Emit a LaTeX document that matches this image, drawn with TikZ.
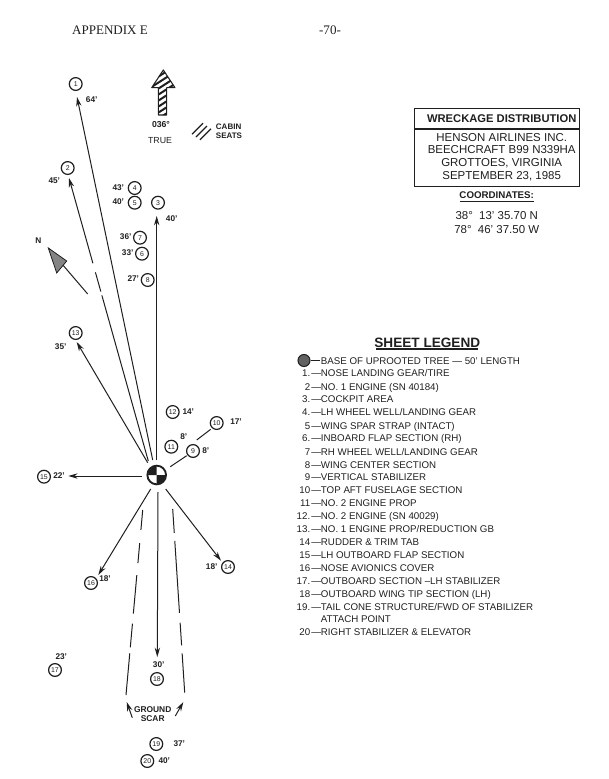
\documentclass[tikz,border=0pt]{standalone}
\usepackage{fontspec}
\setmainfont{Liberation Sans}
\newfontfamily\headfont{Liberation Serif}
\usetikzlibrary{arrows.meta}
\definecolor{ink}{gray}{0.12}
\tikzset{
  x=0.75pt,y=-0.75pt,
  num/.style={draw=ink,circle,line width=0.9pt,inner sep=0pt,minimum size=9.6pt,font=\fontsize{5.2}{5}\selectfont,text=ink},
  lab/.style={font=\fontsize{6.2}{7}\selectfont\bfseries,text=ink,inner sep=0pt},
  leg/.style={font=\fontsize{7.3}{8}\selectfont,text=ink,inner sep=0pt,anchor=west,text height=5.4pt,text depth=0pt},
  legn/.style={font=\fontsize{7.3}{8}\selectfont,text=ink,inner sep=0pt,anchor=east,text height=5.4pt,text depth=0pt},
  ttl/.style={font=\fontsize{8.6}{9}\selectfont,text=ink,inner sep=0pt},
  arr/.style={draw=ink,line width=0.75pt,-{Stealth[length=7pt,width=4pt]}},
  plain/.style={draw=ink,line width=0.75pt},
  scar/.style={draw=ink,line width=0.75pt},
}
\begin{document}
\begin{tikzpicture}
\useasboundingbox (0,0) rectangle (609,779);
% header
\node[font=\fontsize{9.8}{10}\selectfont\headfont,text=ink,inner sep=0pt] (hA) at (110,30) {APPENDIX E};
\node[font=\fontsize{9.8}{10}\selectfont\headfont,text=ink,inner sep=0pt] (hB) at (330,30) {-70-};
% tree
\node[draw=ink,circle,line width=1.4pt,minimum size=14pt,inner sep=0pt] (tree) at (156.7,475) {};
\fill[ink] (tree.center) -- ++(-6.5pt,0) arc (180:90:6.5pt) -- cycle;
\fill[ink] (tree.center) -- ++(6.5pt,0) arc (0:-90:6.5pt) -- cycle;
% numbered circles
\foreach \n/\px/\py in {1/75.7/84,2/67.7/168,3/158/202.7,4/134.7/188,5/134.7/202.7,6/142/253.7,7/140/237.7,8/147.7/280,9/193/451,10/216.7/423,11/171.3/446.7,12/172.7/412,13/75.7/333,14/228/567,15/44/476.7,16/91/583,17/55/670,18/157/679,19/156.3/744,20/147.3/761}
  \node[num] (n\n) at (\px,\py) {\n};
% distance labels
\foreach \t/\px/\py in {64'/91.7/99.3,45'/54.3/180.7,43'/118.3/188,40'/118.3/201.3,40'/171.7/219,36'/125.7/237,33'/127.7/253,27'/133.3/278.7,35'/60.7/346.7,14'/188.3/412,17'/236/421.3,8'/183.7/437,8'/205.7/451,22'/59/476,18'/105/579,18'/211.7/567,23'/61.3/657,30'/158.7/665,37'/179.3/743.7,40'/164.3/760.3}
  \node[lab] at (\px,\py) {\t};
% connector ends
\coordinate (s1) at (152.7,460); \coordinate (e1) at (77,97);
\coordinate (s2) at (148.3,461); \coordinate (e2) at (69,178);
\coordinate (s3) at (156.7,460); \coordinate (e3) at (156.7,216);
\coordinate (s13) at (147.7,462.7); \coordinate (e13) at (76.7,342);
\coordinate (s15) at (142.3,476); \coordinate (e15) at (68.3,476);
\coordinate (s16) at (150.7,489); \coordinate (e16) at (98.3,575);
\coordinate (s14) at (165.7,489); \coordinate (e14) at (221,560.7);
\coordinate (s18) at (158,492); \coordinate (e18) at (157.3,657);
\draw[arr] (s1) -- (e1);
\draw[arr,dash pattern=on 129pt off 3pt on 15pt off 7pt on 300pt] (s2) -- (e2);
\draw[arr] (s3) -- (e3);
\draw[arr] (s13) -- (e13);
\draw[arr] (s15) -- (e15);
\draw[arr] (s16) -- (e16);
\draw[arr] (s14) -- (e14);
\draw[arr] (s18) -- (e18);
% short ties
\coordinate (a9) at (170.3,466.7); \coordinate (b9) at (186.7,455.7);
\coordinate (a10) at (196.7,440); \coordinate (b10) at (210.7,429.3);
\draw[plain] (a9) -- (b9);
\draw[plain] (a10) -- (b10);
% ground scar
\coordinate (L1) at (142.7,510); \coordinate (L2) at (126,695);
\coordinate (R1) at (172.7,509); \coordinate (R2) at (184.7,692.7);
\draw[scar,dash pattern=on 15pt off 10pt on 15pt off 9pt on 29pt off 7.5pt on 18pt off 4.5pt on 40pt] (L1) -- (L2);
\draw[scar,dash pattern=on 18pt off 6pt on 54pt off 7.5pt on 17pt off 6pt on 40pt] (R1) -- (R2);
\coordinate (La) at (132.3,717.7); \coordinate (Lb) at (126.7,702);
\coordinate (Ra) at (175.3,716); \coordinate (Rb) at (183.3,702);
\draw[arr] (La) -- (Lb);
\draw[arr] (Ra) -- (Rb);
\node[lab,align=center,font=\fontsize{6.3}{7}\selectfont\bfseries] (gs) at (152.7,714.3) {GROUND\\SCAR};
% true north arrow
\begin{scope}
\clip (163.3,70) -- (175,87.7) -- (166.7,87.7) -- (166.7,115) -- (158.3,115) -- (158.3,87.7) -- (151.7,87.7) -- cycle;
\foreach \k in {0,1,...,9}
  \draw[ink,line width=1.5pt] (150,{82+\k*6}) -- (178,{82+\k*6-18});
\end{scope}
\draw[ink,line width=0.8pt,line join=round] (163.3,70) -- (175,87.7) -- (166.7,87.7) -- (166.7,115) -- (158.3,115) -- (158.3,87.7) -- (151.7,87.7) -- cycle;
\node[lab,font=\fontsize{6.5}{7}\selectfont\bfseries] (deg) at (161,125) {036°};
\node[font=\fontsize{6.6}{7}\selectfont,text=ink,inner sep=0pt] (true) at (160,140.7) {TRUE};
% cabin seats
\foreach \d in {-4,0,4}
  \draw[ink,line width=1pt] ({196+\d},{137+\d*.7}) -- ({207+\d},{126+\d*.7});
\node[lab,align=left,font=\fontsize{6}{6.5}\selectfont\bfseries] (cab) at (229,131) {CABIN\\SEATS};
% N arrow
\coordinate (Nt) at (87.7,294); \coordinate (Nh) at (48.3,248);
\draw[plain] (Nt) -- (Nh);
\fill[ink!55] (48.3,248) -- (66.7,261) -- (56.7,273) -- cycle;
\draw[ink,line width=0.6pt] (48.3,248) -- (66.7,261) -- (56.7,273) -- cycle;
\node[lab] (N) at (38.3,241) {N};
% title box
\node[draw=ink,line width=1pt,minimum width=124pt,minimum height=58.8pt,inner sep=0pt] (box) at (497,147.5) {};
\draw[ink,line width=0.9pt] (414,129) -- (580,129);
\node[ttl,font=\fontsize{8.4}{9}\selectfont\bfseries] (w0) at (501.7,118.3) {WRECKAGE DISTRIBUTION};
\node[ttl] (w1) at (501.7,137.3) {HENSON AIRLINES INC.};
\node[ttl] (w2) at (501.7,150) {BEECHCRAFT B99 N339HA};
\node[ttl] (w3) at (501.7,163.3) {GROTTOES, VIRGINIA};
\node[ttl] (w4) at (501.7,176.7) {SEPTEMBER 23, 1985};
\node[ttl,font=\fontsize{7.3}{8}\selectfont\bfseries] (c0) at (496.7,195) {COORDINATES:};
\draw[ink,line width=0.9pt] (460,201.7) -- (534,201.7);
\node[ttl] (c1) at (496.7,215.7) {38° \ 13' 35.70 N};
\node[ttl] (c2) at (496.7,230) {78° \ 46' 37.50 W};
% legend
\node[ttl,font=\fontsize{10.2}{11}\selectfont\bfseries] (lt) at (427.3,343) {SHEET LEGEND};
\draw[ink,line width=0.9pt] (376,349) -- (478,349);
\node[draw=ink,circle,line width=0.8pt,minimum size=9pt,inner sep=0pt,fill=ink!70] (ltree) at (304,360.5) {};
\draw[ink,line width=0.8pt] (ltree) -- (320,360.5);
\node[leg] at (320.7,360.7) {BASE OF UPROOTED TREE — 50' LENGTH};
\foreach \n/\py/\t in {
 1./373.3/{NOSE LANDING GEAR/TIRE},
 2/386.7/{NO. 1 ENGINE (SN 40184)},
 3./399.3/{COCKPIT AREA},
 4./412.3/{LH WHEEL WELL/LANDING GEAR},
 5/425.7/{WING SPAR STRAP (INTACT)},
 6./438.3/{INBOARD FLAP SECTION (RH)},
 7/451.7/{RH WHEEL WELL/LANDING GEAR},
 8/464.7/{WING CENTER SECTION},
 9/477.3/{VERTICAL STABILIZER},
 10/490.3/{TOP AFT FUSELAGE SECTION},
 11/503/{NO. 2 ENGINE PROP},
 12./516/{NO. 2 ENGINE (SN 40029)},
 13./529.3/{NO. 1 ENGINE PROP/REDUCTION GB},
 14/542.3/{RUDDER \& TRIM TAB},
 15/555.3/{LH OUTBOARD FLAP SECTION},
 16/567.7/{NOSE AVIONICS COVER},
 17./580.7/{OUTBOARD SECTION --LH STABILIZER},
 18/593.7/{OUTBOARD WING TIP SECTION (LH)},
 19./606.7/{TAIL CONE STRUCTURE/FWD OF STABILIZER},
 20/632.3/{RIGHT STABILIZER \& ELEVATOR}}
 {
  \node[legn] at (310.5,\py) {\n};
  \node[leg] at (311,\py) {—};
  \node[leg] at (320.7,\py) {\t};
 }
\node[leg] (att) at (320.7,619.3) {ATTACH POINT};
\end{tikzpicture}
\end{document}
